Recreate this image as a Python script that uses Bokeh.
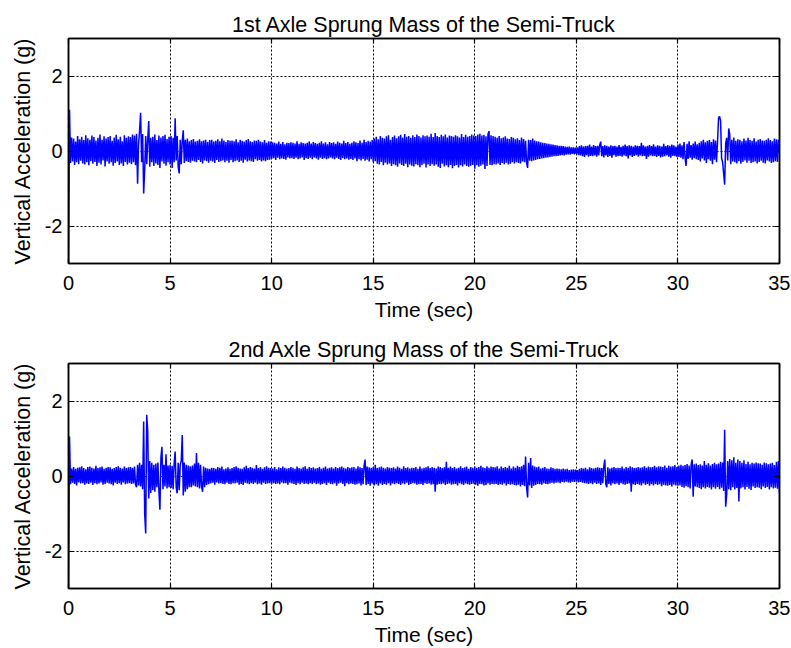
import numpy as np
from bokeh.plotting import figure
from bokeh.models import LinearAxis, Range1d, FixedTicker
from bokeh.layouts import column
from bokeh.embed import file_html
from bokeh.resources import INLINE

# sampling interval (s) of the values
dt = 0.05

# 1st axle sprung mass vertical acceleration (g), one row per second, t = 0 ... 35 s
axle1 = [
    -3.20, 1.10, -0.32, 0.36, -0.28, 0.33, -0.37, 0.25, -0.30, 0.40, -0.35, 0.31, -0.26, 0.38, -0.33, 0.29, -0.36, 0.42, -0.30, 0.34,
    -0.38, 0.30, -0.27, 0.41, -0.34, 0.37, -0.29, 0.28, -0.40, 0.35, -0.31, 0.44, -0.36, 0.30, -0.25, 0.39, -0.41, 0.33, -0.28, 0.37,
    -0.34, 0.40, -0.30, 0.27, -0.39, 0.36, -0.32, 0.43, -0.28, 0.31, -0.37, 0.38, -0.33, 0.26, -0.40, 0.42, -0.29, 0.35, -0.36, 0.39,
    -0.31, 0.37, -0.35, 0.44, -0.30, 0.41, -0.38, 0.46, -0.87, 0.20, 0.55, 1.02, -0.30, 0.45, -1.13, -0.50, 0.40, -0.35, 0.30, 0.80,
    -0.42, 0.35, -0.30, 0.38, -0.40, 0.44, -0.33, 0.29, -0.37, 0.41, -0.45, 0.36, -0.28, 0.40, -0.34, 0.43, -0.39, 0.32, -0.30, 0.38,
    -0.36, 0.40, -0.45, 0.35, -0.30, 0.87, -0.25, 0.40, -0.42, -0.60, 0.30, -0.35, 0.28, 0.55, -0.32, 0.30, -0.27, 0.33, -0.29, 0.26,
    -0.31, 0.29, -0.26, 0.32, -0.28, 0.25, -0.30, 0.27, -0.24, 0.31, -0.29, 0.26, -0.33, 0.28, -0.25, 0.30, -0.27, 0.24, -0.31, 0.29,
    -0.26, 0.30, -0.28, 0.25, -0.32, 0.27, -0.24, 0.31, -0.29, 0.26, -0.27, 0.33, -0.25, 0.28, -0.30, 0.24, -0.26, 0.29, -0.31, 0.27,
    -0.24, 0.28, -0.30, 0.26, -0.27, 0.31, -0.25, 0.23, -0.29, 0.30, -0.26, 0.27, -0.31, 0.25, -0.23, 0.29, -0.28, 0.32, -0.25, 0.26,
    -0.27, 0.24, -0.29, 0.28, -0.22, 0.27, -0.26, 0.30, -0.24, 0.25, -0.28, 0.23, -0.25, 0.29, -0.27, 0.22, -0.24, 0.26, -0.23, 0.25,
    -0.21, 0.23, -0.19, 0.22, -0.24, 0.20, -0.18, 0.25, -0.22, 0.19, -0.20, 0.24, -0.21, 0.18, -0.23, 0.22, -0.17, 0.21, -0.20, 0.23,
    -0.19, 0.22, -0.21, 0.20, -0.18, 0.26, -0.22, 0.19, -0.20, 0.23, -0.17, 0.21, -0.24, 0.20, -0.19, 0.22, -0.21, 0.25, -0.18, 0.20,
    -0.22, 0.24, -0.17, 0.21, -0.20, 0.19, -0.23, 0.22, -0.18, 0.26, -0.21, 0.20, -0.19, 0.23, -0.22, 0.18, -0.20, 0.24, -0.17, 0.21,
    -0.20, 0.23, -0.22, 0.19, -0.18, 0.25, -0.21, 0.22, -0.24, 0.20, -0.19, 0.27, -0.22, 0.21, -0.20, 0.24, -0.23, 0.19, -0.21, 0.22,
    -0.24, 0.26, -0.20, 0.23, -0.27, 0.21, -0.22, 0.28, -0.25, 0.22, -0.21, 0.30, -0.26, 0.24, -0.23, 0.27, -0.28, 0.25, -0.22, 0.29,
    -0.30, 0.33, -0.27, 0.38, -0.34, 0.31, -0.36, 0.40, -0.29, 0.35, -0.38, 0.33, -0.31, 0.39, -0.36, 0.42, -0.33, 0.30, -0.40, 0.37,
    -0.35, 0.41, -0.38, 0.34, -0.42, 0.39, -0.33, 0.43, -0.37, 0.36, -0.40, 0.45, -0.34, 0.38, -0.43, 0.40, -0.36, 0.35, -0.39, 0.42,
    -0.41, 0.37, -0.35, 0.44, -0.38, 0.40, -0.43, 0.36, -0.37, 0.42, -0.34, 0.39, -0.44, 0.41, -0.36, 0.38, -0.40, 0.46, -0.35, 0.37,
    -0.39, 0.48, -0.36, 0.40, -0.42, 0.37, -0.45, 0.43, -0.34, 0.39, -0.41, 0.44, -0.38, 0.36, -0.43, 0.41, -0.37, 0.40, -0.46, 0.38,
    -0.40, 0.42, -0.37, 0.39, -0.44, 0.36, -0.38, 0.45, -0.41, 0.37, -0.36, 0.43, -0.40, 0.38, -0.42, 0.40, -0.39, 0.44, -0.37, 0.41,
    -0.47, 0.40, -0.38, 0.44, -0.42, 0.46, -0.39, 0.41, -0.36, 0.43, -0.48, 0.39, -0.40, 0.45, 0.53, -0.37, 0.42, -0.38, 0.40, -0.35,
    0.38, -0.36, 0.35, -0.33, 0.40, -0.37, 0.34, -0.32, 0.36, -0.35, 0.39, -0.31, 0.33, -0.36, 0.32, -0.34, 0.37, -0.30, 0.35, -0.33,
    0.31, -0.30, 0.34, -0.32, 0.29, -0.33, 0.36, -0.28, 0.32, -0.30, 0.27, -0.31, -0.45, 0.30, -0.26, 0.29, -0.27, 0.33, -0.25, 0.28,
    -0.24, 0.26, -0.22, 0.25, -0.21, 0.23, -0.20, 0.22, -0.19, 0.21, -0.18, 0.20, -0.17, 0.19, -0.16, 0.18, -0.15, 0.17, -0.14, 0.16,
    -0.14, 0.15, -0.13, 0.14, -0.12, 0.14, -0.11, 0.13, -0.12, 0.12, -0.10, 0.11, -0.09, 0.12, -0.10, 0.10, -0.08, 0.10, -0.09, 0.09,
    -0.08, 0.10, -0.11, 0.13, -0.12, 0.15, -0.14, 0.12, -0.16, 0.13, -0.11, 0.14, -0.15, 0.17, -0.13, 0.12, -0.14, 0.16, -0.12, 0.13,
    -0.15, 0.14, -0.12, 0.16, 0.25, -0.14, 0.13, -0.17, 0.15, -0.12, 0.14, -0.16, 0.12, -0.13, 0.15, -0.18, 0.13, -0.11, 0.14, -0.15,
    0.12, -0.14, 0.16, -0.13, 0.11, -0.15, 0.14, -0.12, 0.17, -0.14, 0.13, -0.20, 0.15, -0.12, 0.14, -0.16, 0.12, -0.13, 0.15, -0.11,
    0.14, -0.15, 0.13, -0.12, 0.22, -0.14, 0.15, -0.13, 0.12, -0.21, 0.14, -0.15, 0.16, -0.12, 0.13, -0.14, 0.18, -0.13, 0.12, -0.16,
    0.15, -0.13, 0.14, -0.17, 0.12, -0.15, 0.19, -0.14, 0.13, -0.12, 0.16, -0.15, 0.14, -0.18, 0.17, -0.13, 0.15, -0.14, 0.12, -0.16,
    0.17, -0.16, 0.20, -0.18, 0.15, -0.22, 0.24, -0.17, -0.40, 0.19, -0.21, 0.26, -0.18, 0.16, -0.23, 0.20, -0.19, 0.25, -0.22, 0.18,
    -0.24, 0.22, -0.28, 0.26, -0.20, 0.30, -0.25, 0.23, -0.32, 0.27, -0.22, 0.29, -0.26, 0.24, -0.35, 0.31, -0.23, 0.28, -0.30, 0.25,
    0.88, 0.92, 0.80, -0.20, -0.30, -0.60, -0.90, 0.20, 0.35, -0.25, 0.60, 0.45, -0.35, 0.30, -0.28, 0.36, -0.30, 0.27, -0.33, 0.31,
    -0.27, 0.30, -0.34, 0.26, -0.29, 0.33, -0.25, 0.28, -0.31, 0.35, -0.26, 0.29, -0.32, 0.27, -0.30, 0.34, -0.28, 0.25, -0.33, 0.30,
    -0.29, 0.32, -0.26, 0.28, -0.31, 0.27, -0.33, 0.30, -0.25, 0.34, -0.28, 0.29, -0.32, 0.26, -0.30, 0.33, -0.27, 0.31, -0.29, 0.30,
    -0.05,
]

# 2nd axle sprung mass vertical acceleration (g), one row per second, t = 0 ... 35 s
axle2 = [
    -3.20, 1.05, -0.22, 0.20, -0.18, 0.24, -0.21, 0.19, -0.25, 0.22, -0.17, 0.23, -0.20, 0.26, -0.19, 0.21, -0.23, 0.18, -0.20, 0.24,
    -0.21, 0.25, -0.18, 0.22, -0.24, 0.20, -0.19, 0.27, -0.22, 0.21, -0.20, 0.23, -0.17, 0.25, -0.23, 0.19, -0.21, 0.22, -0.18, 0.24,
    -0.20, 0.23, -0.22, 0.19, -0.25, 0.21, -0.18, 0.24, -0.21, 0.26, -0.19, 0.22, -0.23, 0.20, -0.17, 0.25, -0.22, 0.21, -0.20, 0.23,
    -0.19, 0.24, -0.21, 0.22, -0.20, 0.25, -0.23, -0.30, 0.30, -0.25, 0.35, -0.28, 0.30, -0.35, 1.45, -1.00, -1.53, 1.63, 1.20, -0.60,
    0.40, -0.45, 0.35, -0.38, 0.30, -0.42, 0.33, -0.30, 0.36, -0.40, -0.90, 0.50, 0.78, -0.35, 0.30, -0.28, 0.58, -0.33, 0.28, -0.30,
    0.30, -0.32, 0.27, -0.35, 0.33, 0.65, -0.30, -0.46, 0.35, -0.38, 0.30, 0.40, 1.09, -0.52, 0.36, -0.42, 0.30, -0.35, 0.28, -0.30,
    0.26, -0.30, 0.28, -0.25, 0.33, -0.28, 0.61, -0.30, 0.35, -0.33, 0.30, -0.28, -0.42, 0.25, -0.30, 0.22, -0.24, 0.20, -0.22, 0.19,
    -0.20, 0.22, -0.18, 0.21, -0.23, 0.19, -0.17, 0.24, -0.20, 0.22, -0.19, 0.25, -0.21, 0.18, -0.22, 0.20, -0.18, 0.23, -0.21, 0.19,
    -0.22, 0.21, -0.19, 0.24, -0.20, 0.26, -0.18, 0.22, -0.23, 0.20, -0.21, 0.19, -0.24, 0.23, -0.18, 0.27, -0.20, 0.21, -0.22, 0.24,
    -0.19, 0.22, -0.21, 0.20, -0.18, 0.29, -0.22, 0.21, -0.20, 0.24, -0.23, 0.19, -0.18, 0.23, -0.21, 0.26, -0.20, 0.22, -0.19, 0.21,
    -0.22, 0.20, -0.19, 0.24, -0.21, 0.18, -0.20, 0.23, -0.22, 0.21, -0.17, 0.25, -0.20, 0.22, -0.19, 0.20, -0.23, 0.21, -0.18, 0.24,
    -0.20, 0.22, -0.21, 0.19, -0.24, 0.25, -0.19, 0.21, -0.22, 0.20, -0.18, 0.23, -0.21, 0.26, -0.20, 0.19, -0.22, 0.24, -0.19, 0.21,
    -0.21, 0.23, -0.18, 0.20, -0.22, 0.21, -0.20, 0.24, -0.23, 0.19, -0.21, 0.22, -0.19, 0.25, -0.24, 0.20, -0.18, 0.22, -0.21, 0.23,
    -0.22, 0.20, -0.19, 0.24, -0.26, 0.21, -0.20, 0.23, -0.18, 0.25, -0.21, 0.22, -0.27, 0.20, -0.19, 0.24, -0.22, 0.21, -0.20, 0.23,
    -0.21, 0.24, -0.23, 0.20, -0.22, 0.26, -0.20, 0.23, -0.25, 0.21, -0.22, 0.27, 0.44, -0.24, 0.25, -0.21, 0.23, -0.26, 0.22, -0.20,
    0.24, -0.25, 0.30, -0.22, 0.21, -0.26, 0.23, -0.20, 0.25, -0.24, 0.22, -0.21, 0.20, -0.23, 0.24, -0.19, 0.22, -0.25, 0.21, -0.20,
    0.23, -0.22, 0.20, -0.19, 0.25, -0.21, 0.22, -0.24, 0.19, -0.20, 0.26, -0.22, 0.21, -0.18, 0.23, -0.24, 0.20, -0.21, 0.22, -0.19,
    0.21, -0.20, 0.24, -0.23, 0.19, -0.22, 0.25, -0.21, 0.20, -0.24, 0.22, -0.19, 0.23, -0.21, 0.26, -0.20, 0.21, -0.23, 0.24, -0.22,
    0.22, -0.42, 0.20, -0.23, 0.25, -0.21, 0.24, -0.22, 0.21, -0.20, 0.23, -0.24, 0.38, -0.21, 0.22, -0.20, 0.25, -0.23, 0.21, -0.22,
    0.24, -0.21, 0.20, -0.25, 0.22, -0.19, 0.26, -0.22, 0.21, -0.24, 0.23, -0.20, 0.25, -0.22, 0.19, -0.23, 0.24, -0.21, 0.22, -0.20,
    0.25, -0.23, 0.22, -0.26, 0.24, -0.21, 0.27, -0.22, 0.23, -0.25, 0.21, -0.24, 0.26, -0.20, 0.22, -0.23, 0.25, -0.21, 0.24, -0.22,
    0.23, -0.21, 0.26, -0.24, 0.20, -0.22, 0.25, -0.23, 0.21, -0.20, 0.24, -0.25, 0.22, -0.21, 0.27, -0.23, 0.20, -0.22, 0.25, -0.24,
    0.22, -0.25, 0.27, -0.23, 0.24, -0.28, 0.26, -0.24, 0.30, -0.27, 0.52, -0.30, -0.57, 0.35, -0.25, 0.48, -0.32, 0.28, -0.26, 0.25,
    -0.24, 0.23, -0.21, 0.25, -0.22, 0.20, -0.23, 0.22, -0.19, 0.24, -0.21, 0.20, -0.22, 0.19, -0.20, 0.23, -0.18, 0.21, -0.20, 0.19,
    -0.18, 0.20, -0.17, 0.19, -0.19, 0.18, -0.16, 0.20, -0.17, 0.18, -0.15, 0.19, -0.17, 0.16, -0.18, 0.17, -0.15, 0.18, -0.16, 0.17,
    -0.15, 0.16, -0.17, 0.19, -0.16, 0.21, -0.18, 0.20, -0.19, 0.22, -0.20, 0.18, -0.21, 0.23, -0.19, 0.21, -0.22, 0.20, -0.18, 0.22,
    -0.21, 0.23, -0.20, 0.22, -0.24, 0.21, -0.19, 0.25, 0.44, -0.22, -0.30, 0.23, -0.21, 0.20, -0.25, 0.22, -0.20, 0.24, -0.22, 0.21,
    -0.20, 0.22, -0.24, 0.21, -0.19, 0.25, -0.22, 0.20, -0.23, 0.24, -0.21, 0.22, -0.20, 0.26, -0.42, 0.23, -0.22, 0.21, -0.24, 0.22,
    -0.21, 0.24, -0.23, 0.22, -0.25, 0.23, -0.20, 0.26, -0.24, 0.22, -0.21, 0.25, -0.26, 0.23, -0.22, 0.24, -0.25, 0.27, -0.21, 0.23,
    -0.24, 0.26, -0.22, 0.25, -0.27, 0.24, -0.23, 0.28, -0.25, 0.22, -0.26, 0.27, -0.24, 0.25, -0.28, 0.26, -0.23, 0.29, -0.25, 0.24,
    -0.26, 0.28, -0.25, 0.30, -0.29, 0.27, -0.31, 0.29, -0.27, 0.32, -0.30, 0.28, -0.33, 0.30, 0.44, -0.55, 0.31, -0.28, 0.33, -0.30,
    0.29, -0.32, 0.31, -0.35, 0.28, -0.30, 0.40, -0.33, 0.30, -0.29, 0.34, -0.31, 0.28, -0.36, 0.32, -0.30, 0.35, -0.34, 0.31, -0.29,
    0.33, -0.35, 0.38, -0.31, 0.36, -0.40, 1.23, -0.82, -0.50, 0.40, -0.35, 0.45, -0.38, 0.42, -0.30, 0.50, -0.36, 0.35, -0.32, 0.44,
    -0.68, 0.40, -0.33, 0.35, -0.30, 0.42, -0.36, 0.32, -0.29, 0.38, -0.34, 0.31, -0.37, 0.35, -0.28, 0.33, -0.32, 0.36, -0.30, 0.34,
    -0.31, 0.33, -0.35, 0.30, -0.28, 0.36, -0.32, 0.34, -0.29, 0.31, -0.36, 0.33, -0.30, 0.35, -0.33, 0.29, -0.31, 0.38, -0.34, 0.40,
    -0.46,
]

titles = ["1st Axle Sprung Mass of the Semi-Truck",
          "2nd Axle Sprung Mass of the Semi-Truck"]
x_ticks = [0, 5, 10, 15, 20, 25, 30, 35]
y_ticks = [-2, 0, 2]
y_tick_labels = {-2: "-2", 0: "0", 2: "2"}
x_label = "Time (sec)"
y_label = "Vertical Acceleration (g)"

FONT = "Liberation Sans"


def style_axis(ax, labels=True):
    ax.major_tick_in = 5
    ax.major_tick_out = 0
    ax.minor_tick_in = 0
    ax.minor_tick_out = 0
    ax.axis_line_color = "black"
    ax.axis_line_width = 1.5
    ax.major_tick_line_color = "black"
    ax.major_tick_line_width = 1.2
    if labels:
        ax.major_label_text_font = FONT
        ax.major_label_text_font_size = "20px"
        ax.major_label_text_color = "black"
    else:
        ax.major_label_text_font_size = "0px"
        ax.major_label_standoff = 0


def make(title, values, top, bottom):
    t = np.arange(len(values)) * dt
    p = figure(frame_width=711, frame_height=225,
               x_range=Range1d(0, 35), y_range=Range1d(-3, 3),
               output_backend="svg", toolbar_location=None,
               min_border_left=68, min_border_right=11,
               min_border_top=top, min_border_bottom=bottom,
               title=title)
    p.title.text_font = FONT
    p.title.text_font_size = "21.5px"
    p.title.text_font_style = "normal"
    p.title.text_color = "black"
    p.title.align = "center"
    p.title.vertical_align = "top"
    p.title.standoff = 0

    p.outline_line_color = "black"
    p.outline_line_width = 1.5
    p.background_fill_color = "white"
    p.border_fill_color = "white"

    p.xaxis.ticker = FixedTicker(ticks=x_ticks)
    p.yaxis.ticker = FixedTicker(ticks=y_ticks)
    p.yaxis.major_label_overrides = y_tick_labels
    style_axis(p.xaxis[0])
    style_axis(p.yaxis[0])
    p.xaxis.major_label_standoff = 12
    p.yaxis.major_label_standoff = 6
    p.xaxis.axis_label = x_label
    p.yaxis.axis_label = y_label
    for ax in (p.xaxis[0], p.yaxis[0]):
        ax.axis_label_text_font = FONT
        ax.axis_label_text_font_style = "normal"
        ax.axis_label_text_color = "black"
    p.xaxis.axis_label_text_font_size = "21px"
    p.yaxis.axis_label_text_font_size = "21.5px"
    p.xaxis.axis_label_standoff = 5
    p.yaxis.axis_label_standoff = 7

    top_ax = LinearAxis(ticker=FixedTicker(ticks=x_ticks))
    style_axis(top_ax, labels=False)
    p.add_layout(top_ax, "above")
    right_ax = LinearAxis(ticker=FixedTicker(ticks=y_ticks))
    style_axis(right_ax, labels=False)
    p.add_layout(right_ax, "right")

    p.xgrid.ticker = FixedTicker(ticks=x_ticks)
    p.ygrid.ticker = FixedTicker(ticks=y_ticks)
    for g in (p.xgrid[0], p.ygrid[0]):
        g.grid_line_color = "black"
        g.grid_line_dash = "2 2"
        g.grid_line_width = 1
        g.grid_line_alpha = 1.0

    p.line(t, values, line_color="#0000ff", line_width=1.5)
    return p


p1 = make(titles[0], axle1, 38, 62)
p2 = make(titles[1], axle2, 38, 59)
layout = column(p1, p2, spacing=0)

open("out.html", "w").write(file_html(layout, INLINE))
